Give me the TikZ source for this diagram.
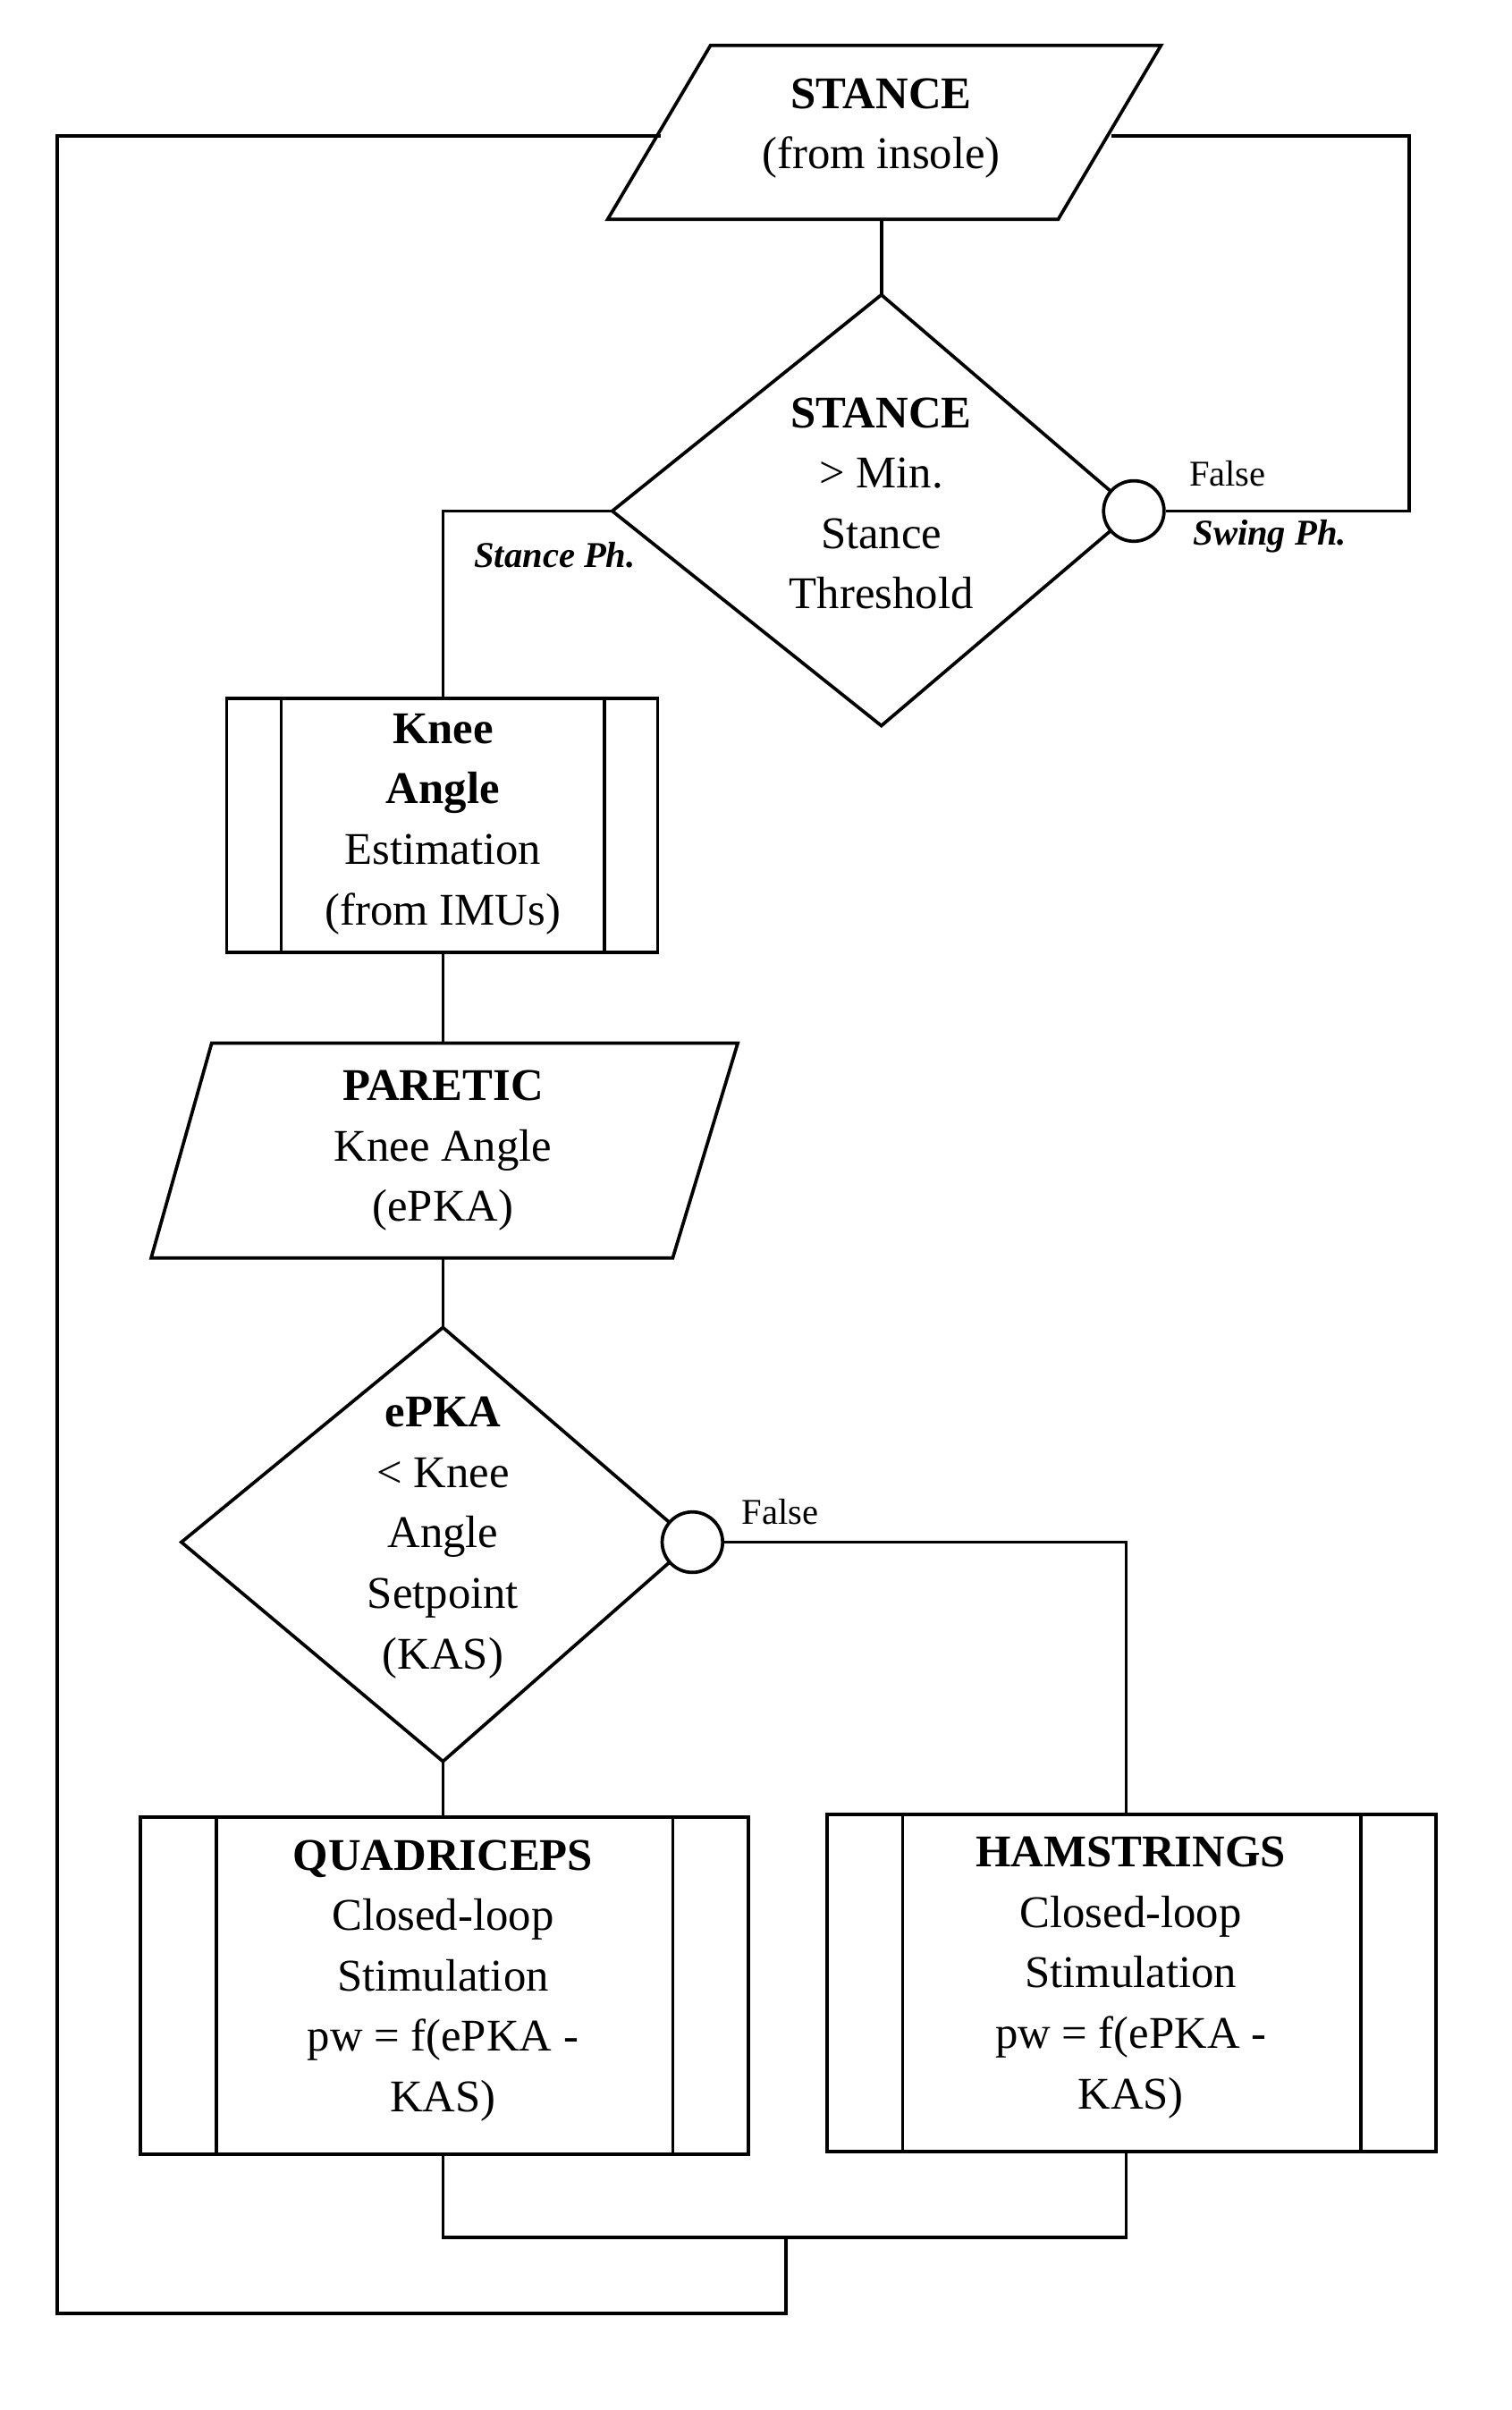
\documentclass[tikz,border=0pt]{standalone}
\usepackage{fontspec}
\setmainfont{Liberation Serif}
\begin{document}
\begin{tikzpicture}[x=0.5pt,y=-0.5pt,line width=1.1pt,
  txt/.style={align=center,font=\fontsize{15}{20}\selectfont},
  lab/.style={font=\fontsize{12}{14}\selectfont},
  lbi/.style={font=\fontsize{12}{14}\selectfont\bfseries\itshape},
  junc/.style={draw,circle,fill=white,minimum size=20pt,inner sep=0}]
\useasboundingbox (0,0) rectangle (1000,1594);
% STANCE parallelogram
\draw (470,30)--(768,30)--(700,145)--(402,145)--cycle;
\node[txt] (stance) at (583,85) {\textbf{STANCE}\\(from insole)};
\coordinate (pL) at (437,90); \coordinate (pR) at (735,90); \coordinate (pB) at (583,145);
% Diamond 1
\draw (583,195)--(750,338)--(583,480)--(405,338)--cycle;
\coordinate (d1T) at (583,195); \coordinate (d1L) at (405,338);
\node[txt] (d1) at (583,333) {\textbf{STANCE}\\> Min.\\Stance\\Threshold};
\node[junc] (c1) at (750,338) {};
\node[lab] at (812,313) {False};
\node[lbi] at (840,355) {Swing Ph.};
\node[lbi] at (367,367) {Stance Ph.};
% Knee box
\draw (150,462) rectangle (435,630); \draw (186,462)--(186,630) (400,462)--(400,630);
\node[txt] (knee) at (293,545) {\textbf{Knee}\\\textbf{Angle}\\Estimation\\(from IMUs)};
\coordinate (kT) at (293,462); \coordinate (kB) at (293,630);
% Paretic
\draw (140,690)--(488,690)--(445,832)--(100,832)--cycle;
\node[txt] (par) at (293,761) {\textbf{PARETIC}\\Knee Angle\\(ePKA)};
\coordinate (paT) at (293,690); \coordinate (paB) at (293,832);
% Diamond 2
\draw (293,878)--(458,1020)--(293,1165)--(120,1020)--cycle;
\coordinate (d2T) at (293,878); \coordinate (d2B) at (293,1165);
\node[txt] (d2) at (293,1017) {\textbf{ePKA}\\< Knee\\Angle\\Setpoint\\(KAS)};
\node[junc] (c2) at (458,1020) {};
\node[lab] at (516,1000) {False};
% Quad
\draw (93,1202) rectangle (495,1425); \draw (143,1202)--(143,1425) (445,1202)--(445,1425);
\node[txt] (q) at (293,1310) {\textbf{QUADRICEPS}\\Closed-loop\\Stimulation\\pw = f(ePKA -\\KAS)};
\coordinate (qT) at (293,1202); \coordinate (qB) at (293,1425);
% Ham
\draw (547,1200) rectangle (950,1423); \draw (597,1200)--(597,1423) (900,1200)--(900,1423);
\node[txt] (h) at (748,1308) {\textbf{HAMSTRINGS}\\Closed-loop\\Stimulation\\pw = f(ePKA -\\KAS)};
\coordinate (hT) at (745,1200); \coordinate (hB) at (745,1423);
\coordinate (m) at (520,1480);
% connectors
\draw (pB)--(d1T);
\draw (c1.east)-|(932,90)--(pR);
\draw (d1L)-|(kT);
\draw (kB)--(paT);
\draw (paB)--(d2T);
\draw (d2B)--(qT);
\draw (c2.east)-|(hT);
\draw (qB)|-(m);
\draw (hB)|-(m);
\draw (m)--(520,1530)-|(38,90)--(pL);
\end{tikzpicture}
\end{document}
